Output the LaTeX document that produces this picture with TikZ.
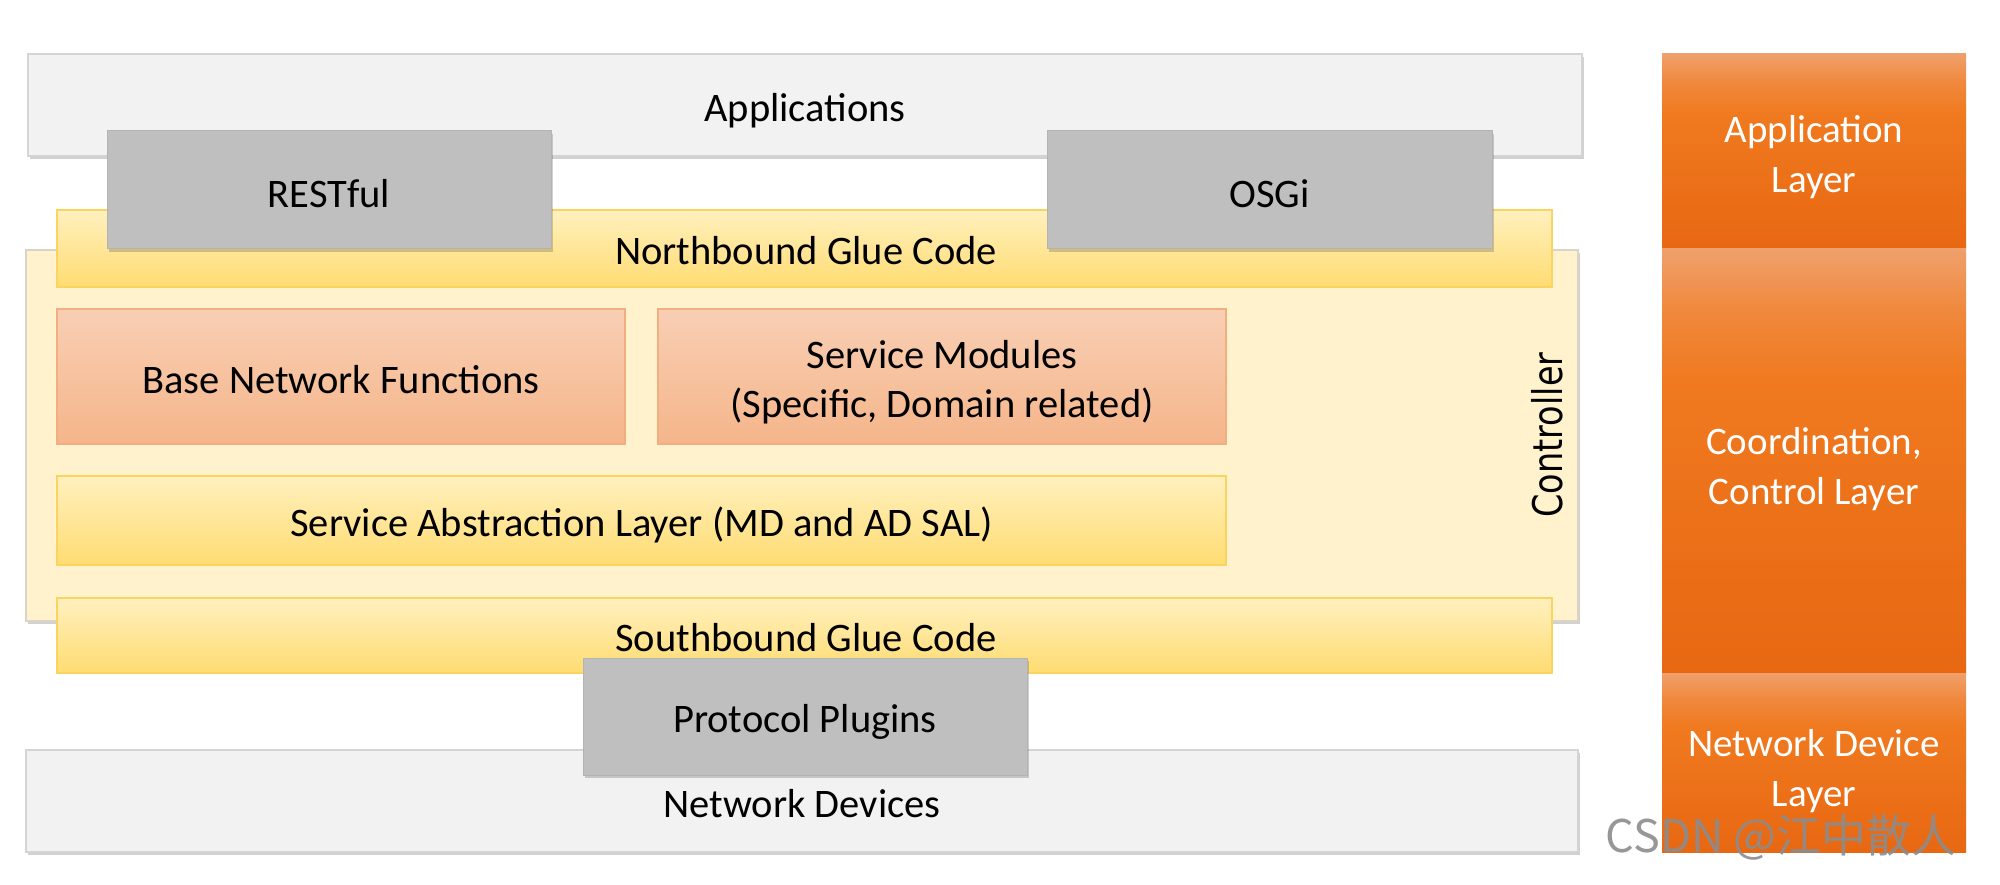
\documentclass[tikz,border=0pt]{standalone}
\usepackage{fontspec}
\setmainfont{Carlito}
\newfontfamily\ctrlfont{DejaVu Sans}
\newfontfamily\wmfont{Noto Sans CJK SC}
\usetikzlibrary{shadows}
\definecolor{palefill}{HTML}{F2F2F2}
\definecolor{paleline}{HTML}{D4D4D4}
\definecolor{grayfill}{HTML}{BFBFBF}
\definecolor{grayline}{HTML}{B3B3B3}
\definecolor{ctrlfill}{HTML}{FFF2CC}
\definecolor{ctrlline}{HTML}{D9D4C4}
\definecolor{gluetop}{HTML}{FFF0BE}
\definecolor{gluebot}{HTML}{FFDC72}
\definecolor{glueline}{HTML}{FAD45E}
\definecolor{fntop}{HTML}{F8CFB4}
\definecolor{fnbot}{HTML}{F5B58A}
\definecolor{fnline}{HTML}{F2AE80}
\definecolor{ortop}{HTML}{F0A06C}
\definecolor{ormid}{HTML}{F07A20}
\definecolor{orbot}{HTML}{E86812}
\definecolor{wmgray}{HTML}{8C8C8C}
\pgfdeclareverticalshading{orshade}{100bp}{color(0bp)=(orbot); color(25bp)=(orbot); color(45bp)=(orbot!45!ormid); color(60bp)=(ormid); color(68bp)=(ormid!60!ortop); color(75bp)=(ortop); color(100bp)=(ortop)}
\tikzset{
  lbl/.style={font=\fontsize{40.5}{49}\selectfont, text=black, align=center, inner sep=0pt, outer sep=0pt},
  sh/.style={drop shadow={shadow xshift=2pt, shadow yshift=-3pt, opacity=0.18, fill=black}},
  palebox/.style={draw=paleline, line width=1.5pt, fill=palefill, sh, inner sep=0pt, outer sep=0pt},
  graybox/.style={draw=grayline, line width=1pt, fill=grayfill, sh, inner sep=0pt, outer sep=0pt},
  ctrlbox/.style={draw=ctrlline, line width=1.5pt, fill=ctrlfill, sh, inner sep=0pt, outer sep=0pt},
  gluebox/.style={draw=glueline, line width=1.5pt, top color=gluetop, bottom color=gluebot, inner sep=0pt, outer sep=0pt},
  fnbox/.style={draw=fnline, line width=1.5pt, top color=fntop, bottom color=fnbot, inner sep=0pt, outer sep=0pt},
  orbox/.style={shading=orshade, inner sep=0pt, outer sep=0pt},
  orlbl/.style={lbl, text=white, font=\fontsize{39}{50}\selectfont},
}
\begin{document}
\begin{tikzpicture}[x=1pt,y=-1pt]
\useasboundingbox[fill=white] (0,0) rectangle (2000,885);
% top
\node[palebox, minimum width=1554, minimum height=102] (apps) at (805,105) {};
\node[lbl] (appst) at (805,111) {Applications};
\node[ctrlbox, minimum width=1552, minimum height=371] (ctrl) at (802,435.5) {};
\node[lbl, font=\ctrlfont\fontsize{33.5}{40}\selectfont, rotate=90] (ctrlt) at (1547,435) {\scalebox{1}[1.22]{Controller}};
\node[gluebox, minimum width=1495, minimum height=77] (north) at (804.5,248.5) {};
\node[lbl] (northt) at (806,251) {Northbound Glue Code};
\node[graybox, minimum width=444, minimum height=118] (rest) at (329,190) {};
\node[lbl] (restt) at (329,194) {RESTful};
\node[graybox, minimum width=445, minimum height=118] (osgi) at (1269.5,190) {};
\node[lbl] (osgit) at (1269.5,194) {OSGi};
% controller internals
\node[fnbox, minimum width=568, minimum height=135] (base) at (341,376.5) {};
\node[lbl] (baset) at (341,380) {Base Network Functions};
\node[fnbox, minimum width=568, minimum height=135] (serv) at (942,376.5) {};
\node[lbl] (servt) at (942,382) {Service Modules\\(Specific, Domain related)};
\node[gluebox, minimum width=1169, minimum height=89] (sal) at (641.5,520.5) {};
\node[lbl] (salt) at (641.5,525) {Service Abstraction Layer (MD and AD SAL)};
% bottom
\node[gluebox, minimum width=1495, minimum height=75] (south) at (804.5,635.5) {};
\node[lbl] (southt) at (806,638) {Southbound Glue Code};
\node[palebox, minimum width=1552, minimum height=102] (netdev) at (802,801) {};
\node[lbl] (netdevt) at (802,804) {Network Devices};
\node[graybox, minimum width=444, minimum height=117] (proto) at (805,716.5) {};
\node[lbl] (protot) at (805,722) {Protocol Plugins};
% right orange bar
\node[orbox, minimum width=304, minimum height=195] (applayer) at (1814,151.5) {};
\node[orlbl] (applayert) at (1814,157) {Application\\Layer};
\node[orbox, minimum width=304, minimum height=424] (ctllayer) at (1814,461) {};
\node[orlbl] (ctllayert) at (1814,469) {Coordination,\\Control Layer};
\node[orbox, minimum width=304, minimum height=179] (ndlayer) at (1814,762.5) {};
\node[orlbl] (ndlayert) at (1814,771) {Network Device\\Layer};
% watermark
\node[lbl, font=\wmfont\fontsize{45}{50}\selectfont, text=wmgray, opacity=0.9] (wm) at (1781,837) {CSDN @江中散人};
\end{tikzpicture}
\end{document}
